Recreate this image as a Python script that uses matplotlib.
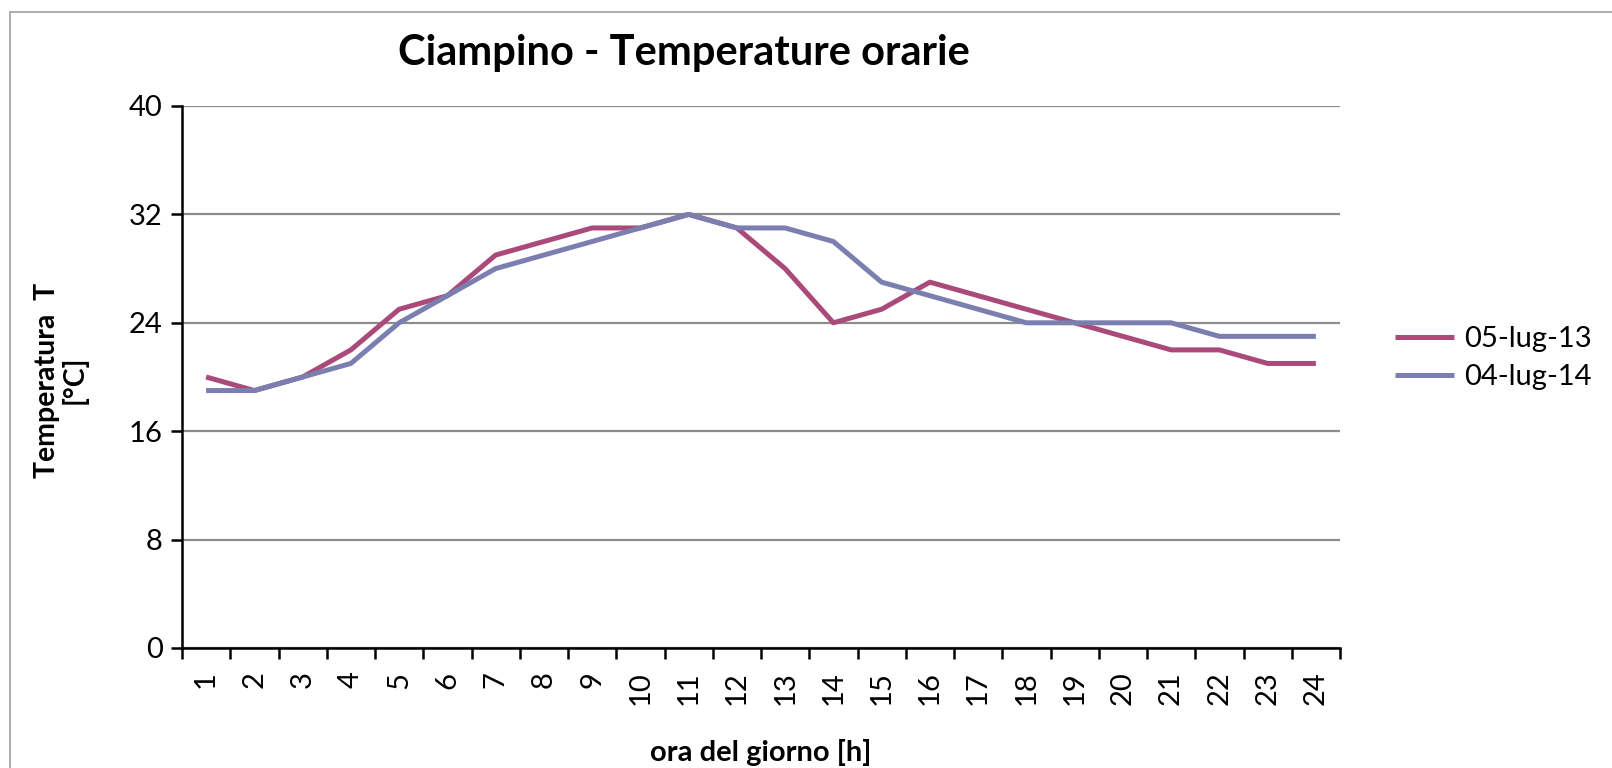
import matplotlib
matplotlib.use("Agg")
import matplotlib.pyplot as plt
from matplotlib.patches import Rectangle

hours = list(range(1, 25))
series_names = ["05-lug-13", "04-lug-14"]
temp_2013 = [20, 19, 20, 22, 25, 26, 29, 30, 31, 31, 32, 31, 28, 24, 25, 27, 26, 25, 24, 23, 22, 22, 21, 21]
temp_2014 = [19, 19, 20, 21, 24, 26, 28, 29, 30, 31, 32, 31, 31, 30, 27, 26, 25, 24, 24, 24, 24, 23, 23, 23]
y_ticks = [0, 8, 16, 24, 32, 40]
colors = ["#AA4A7A", "#7B7FB0"]

plt.rcParams['font.family'] = ['Lato', 'DejaVu Sans']

W, H = 1612, 768
fig = plt.figure(figsize=(W / 100, H / 100), dpi=100)
fig.patch.set_facecolor("white")

# outer chart frame
fig.add_artist(Rectangle((10 / W, -0.01), (W - 10) / W + 0.01, (H - 12) / H + 0.01,
                         transform=fig.transFigure, fill=False,
                         edgecolor="#A0A0A0", linewidth=1.2))

left, right, top, bottom = 182, 1340, 106, 648
ax = fig.add_axes([left / W, (H - bottom) / H, (right - left) / W, (bottom - top) / H])

ax.plot(hours, temp_2013, color=colors[0], linewidth=3.6, label=series_names[0], solid_capstyle="butt")
ax.plot(hours, temp_2014, color=colors[1], linewidth=3.6, label=series_names[1], solid_capstyle="butt")

ax.set_xlim(0.5, 24.5)
ax.set_ylim(0, 40)
ax.set_yticks(y_ticks)
ax.set_yticklabels([str(v) for v in y_ticks], fontsize=21)
ax.yaxis.grid(True, color="#8C8C8C", linewidth=1.6)
ax.set_axisbelow(True)

# category labels at centers, tick marks at boundaries
ax.set_xticks(hours)
ax.set_xticklabels([str(h) for h in hours], rotation=90, fontsize=21)
ax.tick_params(axis="x", which="major", length=0, pad=17)
ax.set_xticks([h + 0.5 for h in [0] + hours], minor=True)
ax.tick_params(axis="x", which="minor", length=8, width=1.8, direction="out")
ax.tick_params(axis="y", length=8, width=1.8, direction="out", pad=6)

for s in ["top", "right"]:
    ax.spines[s].set_visible(False)
for s in ["left", "bottom"]:
    ax.spines[s].set_linewidth(1.8)
    ax.spines[s].set_color("black")

fig.text(684 / W, 1 - 53 / H, "Ciampino - Temperature orarie", ha="center", va="center",
         fontsize=30, fontweight="bold")
fig.text(761 / W, 1 - 753 / H, "ora del giorno [h]", ha="center", va="center",
         fontsize=21, fontweight="bold")
fig.text(61 / W, 1 - 380 / H, "Temperatura  T\n[°C]", ha="center", va="center",
         rotation=90, fontsize=20.5, fontweight="bold", linespacing=1.05)

leg = ax.legend(loc="center left", bbox_to_anchor=(1.025, 0.535), frameon=False,
                fontsize=21, handlelength=2.0, handletextpad=0.35, labelspacing=0.4)

fig.savefig("out.png", dpi=100, facecolor="white")
